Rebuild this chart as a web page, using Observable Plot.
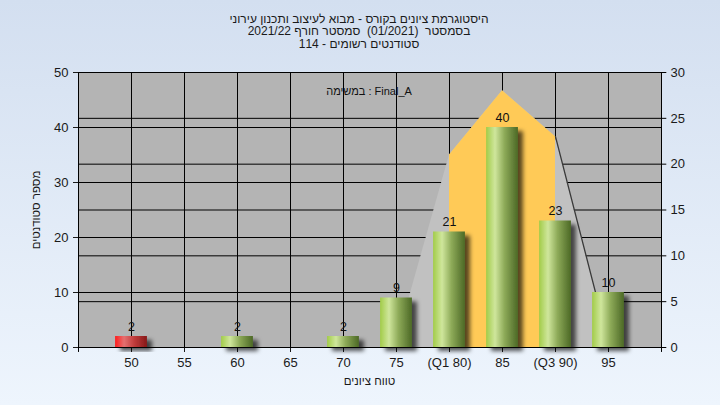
<!DOCTYPE html>
<html>
<head>
<meta charset="utf-8">
<script src="https://cdn.jsdelivr.net/npm/d3@7"></script>
<script src="https://cdn.jsdelivr.net/npm/@observablehq/plot@0.6"></script>
<style>
  body { margin: 0; }
  #wrap { position: relative; width: 720px; height: 405px; overflow: hidden;
    background: linear-gradient(#d3dff0, #eef5fd);
    font-family: "Liberation Sans", Arial, sans-serif; color: #1a1a1a; }
  #title { height: 52px; box-sizing: border-box; padding-top: 12.5px; text-align: center;
    font-size: 12px; line-height: 12.5px; direction: rtl; padding-right: 2px; }
  #title div { white-space: pre; }
  #xtitle { position: absolute; left: 0; width: 739px; top: 375px; text-align: center;
    font-size: 11.5px; direction: rtl; white-space: pre; }
  #ytitle { position: absolute; left: 36px; top: 209.5px; font-size: 11.5px; white-space: pre;
    transform: translate(-50%, -50%) rotate(-90deg); direction: rtl; }
  #chart svg { display: block; }
</style>
</head>
<body>
<div id="wrap">
  <div id="title"></div>
  <div id="chart"></div>
  <div id="xtitle"></div>
  <div id="ytitle"></div>
</div>
<script>
// ---- data ----
const titleLines = [
  "היסטוגרמת ציונים בקורס - מבוא לעיצוב ותכנון עירוני",
  "בסמסטר  (01/2021)  סמסטר חורף 2021/22",
  "סטודנטים רשומים - 114"
];
const xTitle = "טווח ציונים";
const yTitle = "מספר סטודנטים";
const legendText = "במשימה : Final_A";

const grades = [50, 55, 60, 65, 70, 75, 80, 85, 90, 95];
const tickLabels = ["50", "55", "60", "65", "70", "75", "(Q1 80)", "85", "(Q3 90)", "95"];
const counts = [2, 0, 2, 0, 2, 9, 21, 40, 23, 10];
const passGrade = 55;

const curveX = [75, 80, 85, 90, 95];
const curveRight = [0.5, 21, 28, 23, 0.5];   // read on the right axis
const iqrX = [80, 85, 90];
const iqrRight = [21, 28, 23];

const leftTicks = [0, 10, 20, 30, 40, 50];
const rightTicks = [0, 5, 10, 15, 20, 25, 30];
const leftMax = 50, rightMax = 30;

// ---- titles ----
const titleEl = document.getElementById("title");
titleLines.forEach(l => {
  const d = document.createElement("div");
  d.textContent = l;
  titleEl.appendChild(d);
});
document.getElementById("xtitle").textContent = xTitle;
document.getElementById("ytitle").textContent = yTitle;

// ---- chart ----
const k = leftMax / rightMax;
const bars = grades.map((g, i) => ({grade: g, count: counts[i]})).filter(d => d.count > 0);
const curve = curveX.map((x, i) => ({x, r: curveRight[i]}));
const iqr = iqrX.map((x, i) => ({x, r: iqrRight[i]}));

const chart = Plot.plot({
  width: 720, height: 353,
  marginTop: 20, marginBottom: 58, marginLeft: 78, marginRight: 59,
  style: {fontFamily: "Liberation Sans, Arial, sans-serif", fontSize: "13px",
          background: "transparent", color: "#1a1a1a", overflow: "visible"},
  x: {domain: [45, 100], ticks: grades, tickFormat: d => tickLabels[grades.indexOf(d)],
      tickSize: 5, tickPadding: 5, label: null},
  y: {domain: [0, leftMax], ticks: leftTicks, tickSize: 5, tickPadding: 5, label: null},
  marks: [
    Plot.frame({fill: "#b4b4b4"}),
    Plot.ruleX(grades, {stroke: "#000"}),
    Plot.ruleY(leftTicks.filter(t => t > 0 && t < leftMax), {stroke: "#000"}),
    Plot.ruleY(rightTicks.filter(t => t > 0 && t < rightMax), {y: d => d * k, stroke: "#000"}),
    Plot.areaY(curve, {x: "x", y: d => d.r * k, fill: "#c1c1c1"}),
    Plot.areaY(iqr, {x: "x", y: d => d.r * k, fill: "#ffca57"}),
    Plot.line(curve.slice(3), {x: "x", y: d => d.r * k, stroke: "#3a3a3a", strokeWidth: 1.3}),
    Plot.rect(bars.filter(d => d.grade < passGrade), {x1: d => d.grade - 1.5, x2: d => d.grade + 1.5, y1: 0, y2: "count", fill: "#d03030"}),
    Plot.rect(bars.filter(d => d.grade >= passGrade), {x1: d => d.grade - 1.5, x2: d => d.grade + 1.5, y1: 0, y2: "count", fill: "#8fb050"}),
    Plot.text(bars, {x: "grade", y: "count", text: d => String(d.count), dy: -10, fontSize: 12.5, fill: "#111"}),
    Plot.text([legendText], {frameAnchor: "top", dy: 15, dx: -1, fontSize: 11, fill: "#111"}),
    Plot.ruleY(rightTicks, {y: d => d * k, x1: 100, x2: 100.5, stroke: "#000"}),
    Plot.text(rightTicks, {x: 100, y: d => d * k, text: d => String(d), dx: 9, textAnchor: "start", fontSize: 13, fill: "#1a1a1a"}),
    Plot.ruleX([45, 100], {y1: 0, y2: -0.9, stroke: "#000"}),
    Plot.frame({stroke: "#000"})
  ]
});
document.getElementById("chart").appendChild(chart);

// gradients + shadow
const svg = d3.select(chart);
const defs = svg.insert("defs", ":first-child");
function grad(id, stops) {
  const g = defs.append("linearGradient").attr("id", id).attr("x1", "0%").attr("x2", "100%").attr("y1", "0%").attr("y2", "0%");
  stops.forEach(([o, c]) => g.append("stop").attr("offset", o).attr("stop-color", c));
}
grad("gRed", [["0%", "#ff1c1c"], ["28%", "#e57070"], ["60%", "#c03c3c"], ["100%", "#861818"]]);
grad("gGreen", [["0%", "#a2cc48"], ["28%", "#cfe69c"], ["58%", "#8daa58"], ["100%", "#4c6826"]]);
const f = defs.append("filter").attr("id", "shadow").attr("x", "-20%").attr("y", "-20%").attr("width", "160%").attr("height", "160%");
f.append("feDropShadow").attr("dx", 5).attr("dy", 4).attr("stdDeviation", 2)
  .attr("flood-color", "#000").attr("flood-opacity", 0.65);
const rectGroups = svg.selectAll('g[aria-label="rect"]').nodes();
if (rectGroups[0]) d3.select(rectGroups[0]).attr("fill", "url(#gRed)").attr("filter", "url(#shadow)");
if (rectGroups[1]) d3.select(rectGroups[1]).attr("fill", "url(#gGreen)").attr("filter", "url(#shadow)");
</script>
</body>
</html>
